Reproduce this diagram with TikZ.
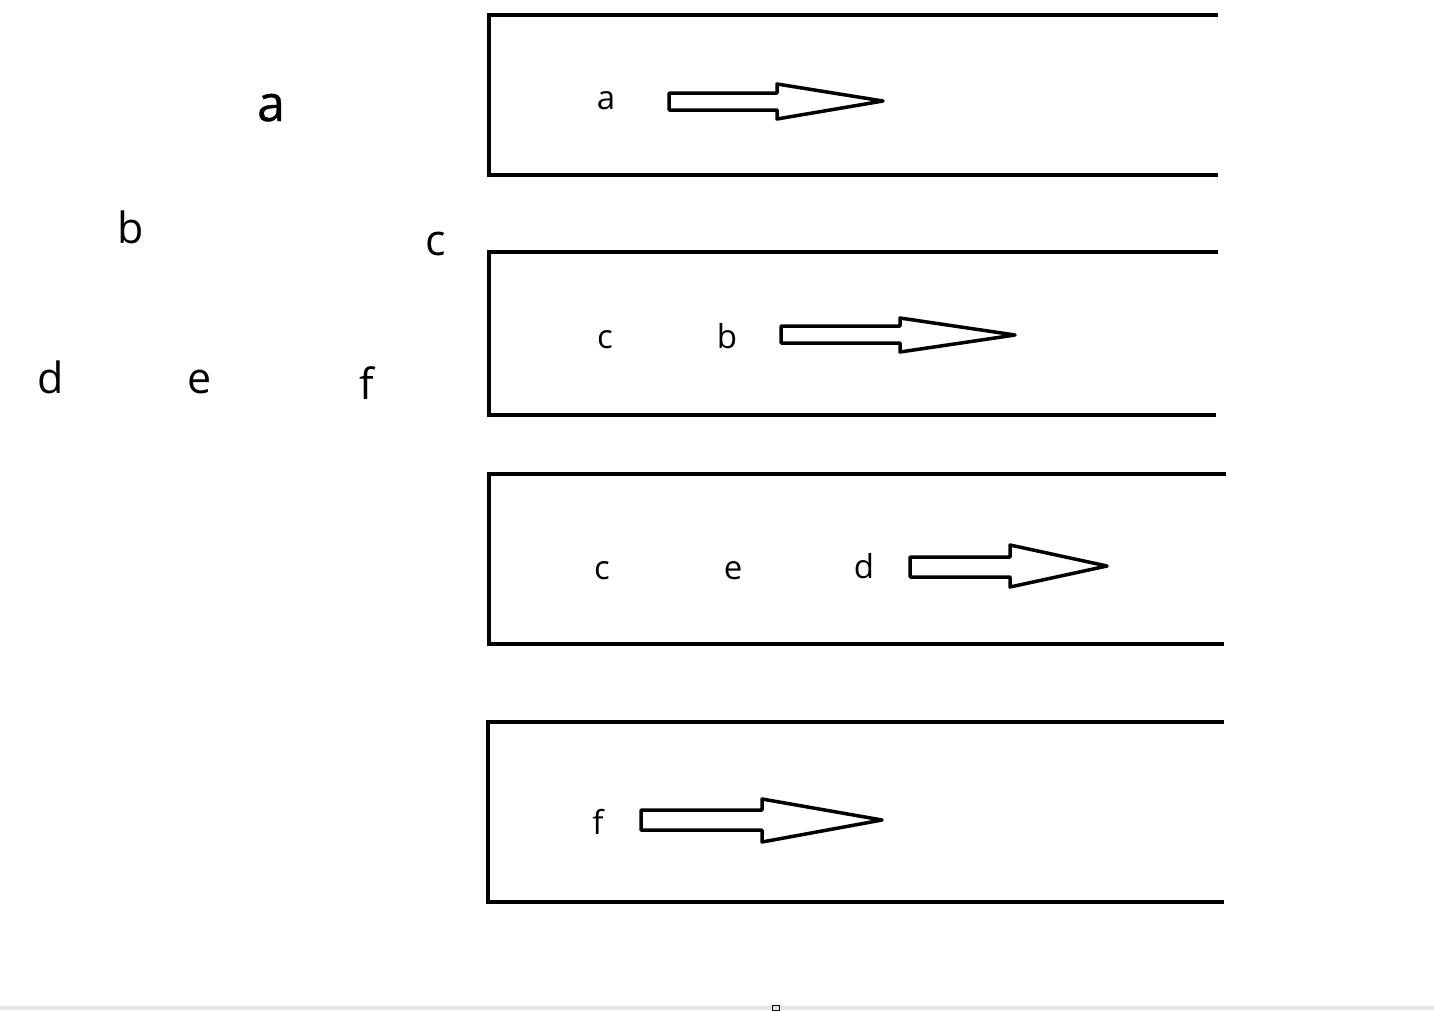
\documentclass[tikz,border=0pt]{standalone}
\usepackage{fontspec}
\setmainfont{Open Sans}
\newfontfamily\semib[FakeBold=0.8]{Open Sans}
\begin{document}
\begin{tikzpicture}[x=1pt,y=-1pt,
  lane/.style={line width=4pt,line cap=butt,line join=miter},
  hollow/.style={line width=3.5pt,line join=round,fill=white},
  inlbl/.style={inner sep=0pt,anchor=base,font=\fontsize{33}{38}\selectfont},
  treelbl/.style={inner sep=0pt,anchor=base,font=\fontsize{43}{48}\selectfont}]
\useasboundingbox (0,0) rectangle (1434,1010);
\fill[white] (0,0) rectangle (1434,1010);
\fill[black!10] (0,1006) rectangle (1434,1010);
% tree letters
\node[treelbl,font=\fontsize{50}{56}\semib] (ta) at (271,121) {a};
\node[treelbl] (tb) at (131,243) {b};
\node[treelbl] (tc) at (436,255) {c};
\node[treelbl] (td) at (51,393) {d};
\node[treelbl] (te) at (200,393) {e};
\node[treelbl] (tf) at (367,399) {f};
% lanes
\draw[lane] (1218,15) -- (489,15) -- (489,175) -- (1218,175);
\draw[lane] (1218,252) -- (489,252) -- (489,415) -- (1216,415);
\draw[lane] (1226,474) -- (489,474) -- (489,644) -- (1224,644);
\draw[lane] (1224,722) -- (488,722) -- (488,902) -- (1224,902);
% lane contents
\node[inlbl] (la) at (606,109) {a};
\node[inlbl] (lc1) at (605,348) {c};
\node[inlbl] (lb) at (727,348) {b};
\node[inlbl] (lc2) at (602,579) {c};
\node[inlbl] (le) at (733,579) {e};
\node[inlbl] (ld) at (864,578) {d};
\node[inlbl] (lf) at (598,834) {f};
% hollow arrows
\draw[hollow] (669,93) -- (777,93) -- (777,84) -- (883,101) -- (777,119) -- (777,110) -- (669,110) -- cycle;
\draw[hollow] (781,326) -- (900,326) -- (900,318) -- (1015,335) -- (900,352) -- (900,343) -- (781,343) -- cycle;
\draw[hollow] (910,557) -- (1010,557) -- (1010,545) -- (1107,566) -- (1010,587) -- (1010,577) -- (910,577) -- cycle;
\draw[hollow] (641,810) -- (762,810) -- (762,799) -- (882,820) -- (762,842) -- (762,830) -- (641,830) -- cycle;
\draw[line width=1pt] (772,1005) rectangle (779,1010);
\end{tikzpicture}
\end{document}
